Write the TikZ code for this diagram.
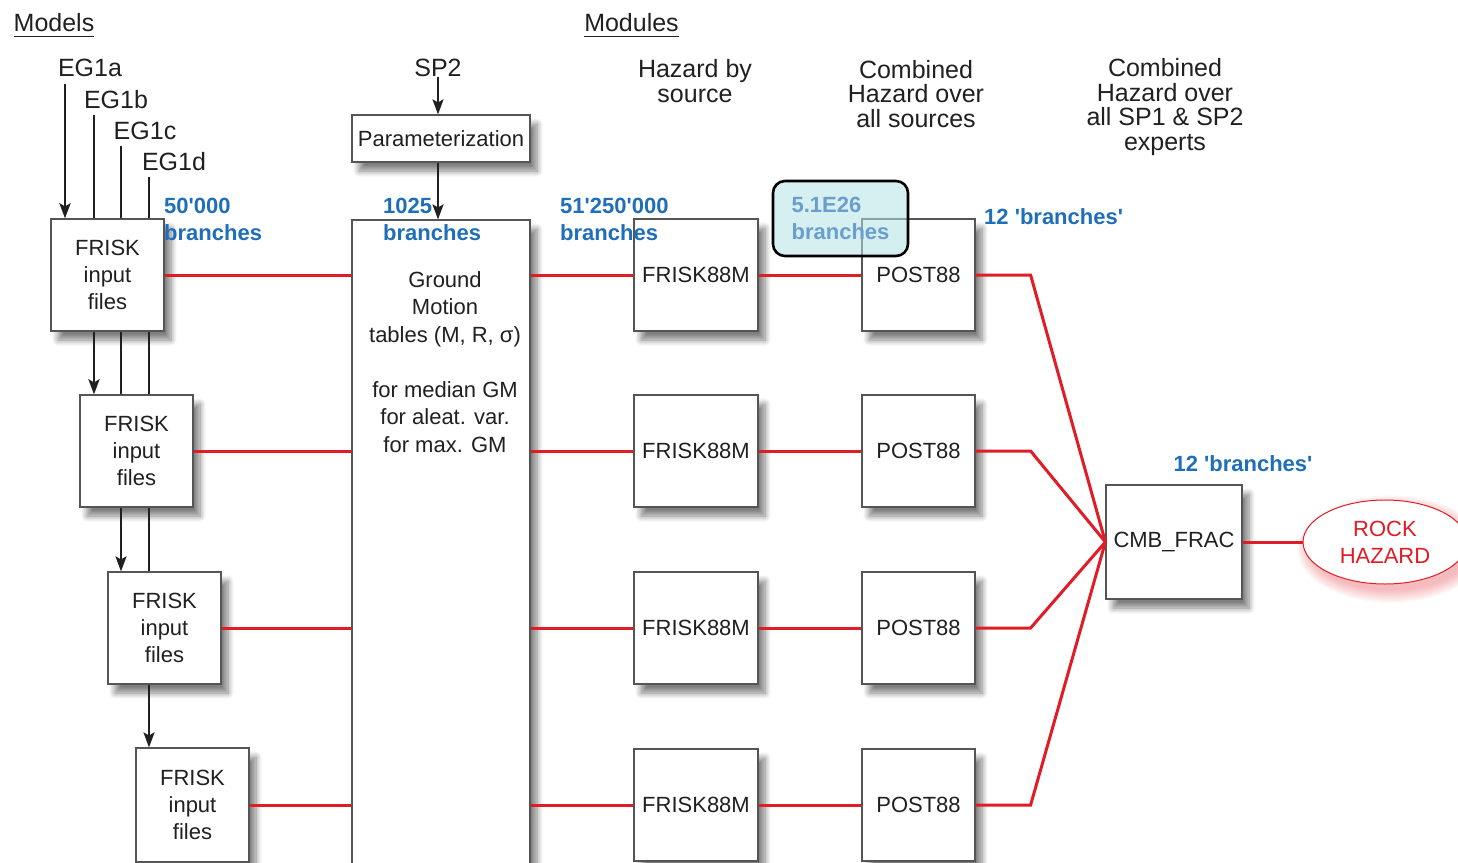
\documentclass[tikz,border=0pt]{standalone}
\usepackage{fontspec}
\setmainfont{Liberation Sans}
\usetikzlibrary{arrows.meta,shadows.blur,shapes.geometric}

\definecolor{lbl}{RGB}{30,110,185}
\definecolor{wirered}{RGB}{224,28,38}
\definecolor{frame}{RGB}{85,85,85}
\definecolor{ink}{RGB}{32,32,32}
\definecolor{haze}{RGB}{180,226,228}
\definecolor{hazetext}{RGB}{105,158,205}

\newcommand\bodyfont{\fontsize{22}{27}\selectfont}
\newcommand\headfont{\fontsize{25}{24.5}\selectfont}
\newcommand\gmfont{\fontsize{22}{27.5}\selectfont}
\newcommand\q{\textquotesingle}

\tikzset{
  box/.style={draw=frame, line width=1.2pt, fill=white, inner sep=0pt,
    align=center, text=ink, font=\bodyfont,
    blur shadow={shadow xshift=7pt, shadow yshift=-9pt,
      shadow blur radius=6pt, shadow blur steps=8, shadow opacity=50}},
  filebox/.style={box, minimum width=113pt, minimum height=112pt},
  modbox/.style={box, minimum width=124pt, minimum height=112pt},
  postbox/.style={box, minimum width=113pt, minimum height=112pt},
  head/.style={font=\headfont, text=ink, align=center, inner sep=0pt},
  count/.style={font=\bodyfont\bfseries, text=lbl, align=left, inner sep=0pt, anchor=west},
  arr/.style={draw=ink, line width=2.2pt, -{Stealth[length=15pt,width=11pt,inset=3pt]}},
  arrbold/.style={arr, line width=2.8pt},
  plain/.style={draw=ink, line width=2.2pt},
  wire/.style={draw=wirered, line width=3pt, line join=miter},
}

\begin{document}
\begin{tikzpicture}[x=1pt,y=-1pt]
\useasboundingbox (0,0) rectangle (1458,862);

% section headers
\node[head, text depth=0pt] (models) at (54,22) {Models};
\node[head, text depth=0pt] (modules) at (631.5,22) {Modules};
\draw[ink, line width=1.2pt] ([yshift=-5pt]models.south west) -- ([yshift=-5pt]models.south east);
\draw[ink, line width=1.2pt] ([yshift=-5pt]modules.south west) -- ([yshift=-5pt]modules.south east);

% model inputs
\node[head] (eg1a) at (90,68) {EG1a};
\node[head] (eg1b) at (116,100) {EG1b};
\node[head] (eg1c) at (145,131) {EG1c};
\node[head] (eg1d) at (174,162) {EG1d};
\coordinate (ka) at (65,84);
\coordinate (kb) at (94,115);
\coordinate (kc) at (121,146);
\coordinate (kd) at (149,177);

% column headings
\node[head] (hsrc) at (695,81) {Hazard by\\source};
\node[head] (hall) at (916,94) {Combined\\Hazard over\\all sources};
\node[head] (hexp) at (1165,107) {Combined\\Hazard over\\all SP1 \& SP2\\experts};

% FRISK input files
\node[filebox] (b1) at (107.5,275) {FRISK\\input\\files};
\node[filebox] (b2) at (136.5,451) {FRISK\\input\\files};
\node[filebox] (b3) at (164.5,628) {FRISK\\input\\files};
\node[filebox, minimum height=114pt] (b4) at (192.5,805) {FRISK\\input\\files};

% ground motion
\node[head] (sp2) at (438,68) {SP2};
\node[box, minimum width=178pt, minimum height=47pt] (param) at (441,138.5) {Parameterization};
\node[box, minimum width=178pt, minimum height=648pt] (gm) at (441,544) {};
\node[font=\gmfont, text=ink, align=center, inner sep=0pt, anchor=north] (gmtext) at (445,271)
  {Ground\\Motion\\tables (M, R, σ)\\[27.5pt]for median GM\\for aleat. var.\\for max. GM};

% hazard modules
\node[modbox] (m1) at (696,275) {FRISK88M};
\node[modbox] (m2) at (696,451) {FRISK88M};
\node[modbox] (m3) at (696,628) {FRISK88M};
\node[modbox] (m4) at (696,805) {FRISK88M};
\node[postbox] (p1) at (918.5,275) {POST88};
\node[postbox] (p2) at (918.5,451) {POST88};
\node[postbox] (p3) at (918.5,628) {POST88};
\node[postbox] (p4) at (918.5,805) {POST88};
\node[box, minimum width=136pt, minimum height=114pt] (cmb) at (1174,542) {CMB\_FRAC};

% rock hazard with a soft red glow
\foreach \k in {1,...,8}
  \fill[wirered, opacity=0.045] (1391,549) ellipse ({80+1.7*\k} and {40+1.7*\k});
\node[ellipse, draw=wirered, line width=1pt, fill=white, inner sep=0pt,
      minimum width=164pt, minimum height=84pt, text=wirered, align=center,
      font=\bodyfont] (rock) at (1385,542) {ROCK\\HAZARD};

% black model links
\draw[arrbold] (ka) -- (ka |- b1.north);
\draw[plain, line width=2.6pt] (kb) -- (kb |- b1.north);
\draw[plain] (kc) -- (kc |- b1.north);
\draw[plain] (kd) -- (kd |- b1.north);
\draw[arrbold] (kb |- b1.south) -- (kb |- b2.north);
\draw[plain] (kc |- b1.south) -- (kc |- b2.north);
\draw[plain] (kd |- b1.south) -- (kd |- b2.north);
\draw[arr] (kc |- b2.south) -- (kc |- b3.north);
\draw[plain] (kd |- b2.south) -- (kd |- b3.north);
\draw[arr] (kd |- b3.south) -- (kd |- b4.north);
\draw[arr] (sp2.south) -- (sp2.south |- param.north);
\draw[arr] (sp2 |- param.south) -- (sp2 |- gm.north);

% red data flow
\foreach \i in {1,2,3,4}{
  \draw[wire] (b\i.east) -- (b\i.east -| gm.west);
  \draw[wire] (gm.east |- m\i.west) -- (m\i.west);
  \draw[wire] (m\i.east) -- (p\i.west);
  \draw[wire] (p\i.east) -- ++(55,0) -- (cmb.west);
}
\draw[wire] (cmb.east) -- (rock.west);

% branch counts
\node[count] (c1) at (164,219.5) {50\q000\\branches};
\node[count] (c2) at (383,219.5) {1025\\branches};
\node[count] (c3) at (560,219.5) {51\q250\q000\\branches};
\node[count] (c4) at (984,217) {12 \q branches\q};
\node[count, anchor=center] (c5) at (1243,464) {12 \q branches\q};
\node[draw=black, line width=2.6pt, rounded corners=12pt, fill=haze, fill opacity=0.55,
      text opacity=1, text=hazetext, font=\bodyfont\bfseries, align=left,
      minimum width=135pt, minimum height=75pt, inner sep=0pt] (hl) at (840.5,218.5)
      {5.1E26\\branches};
\end{tikzpicture}
\end{document}
